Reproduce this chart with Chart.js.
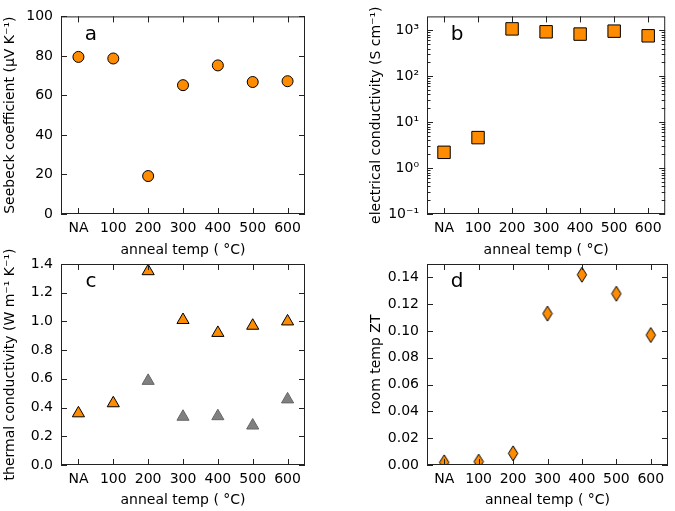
<!DOCTYPE html>
<html>
<head>
<meta charset="utf-8">
<script src="https://cdn.jsdelivr.net/npm/chart.js@4"></script>
<style>
  html, body { margin: 0; padding: 0; background: #fff; }
  #wrap { position: relative; width: 675px; height: 511px; }
  #wrap canvas { position: absolute; left: 0; top: 0; }
</style>
</head>
<body>
<div id="wrap">
  <canvas id="panelA" width="675" height="511"></canvas>
  <canvas id="panelB" width="675" height="511"></canvas>
  <canvas id="panelC" width="675" height="511"></canvas>
  <canvas id="panelD" width="675" height="511"></canvas>
</div>
<script>
// Dados
const categories = ['NA', '100', '200', '300', '400', '500', '600'];
const seebeck = [79.5, 78.7, 19.2, 65.2, 75.2, 66.8, 67.2];
const elecCond = [2.2, 4.6, 1070, 924, 824, 955, 756];
const thermalTotal = [0.36, 0.43, 1.35, 1.01, 0.92, 0.97, 1.00];
const thermalLattice = [null, null, 0.586, 0.336, 0.34, 0.275, 0.457];
const roomZT = [0.002, 0.0025, 0.0087, 0.113, 0.142, 0.1278, 0.097];

// Ticks dos eixos
const seebeckTicks = [0, 20, 40, 60, 80, 100];
const condTicks = [0.1, 1, 10, 100, 1000];
const condTickLabels = ['10⁻¹', '10⁰', '10¹', '10²', '10³'];
const thermalTicks = [0, 0.2, 0.4, 0.6, 0.8, 1.0, 1.2, 1.4];
const ztTicks = [0, 0.02, 0.04, 0.06, 0.08, 0.10, 0.12, 0.14];

const ORANGE = '#ff8c00';
const FONT = '"DejaVu Sans", sans-serif';

Chart.defaults.font.family = FONT;
Chart.defaults.color = '#000';

// Marcador losango fino (estilo matplotlib 'd')
const makeDiamond = () => {
    const c = document.createElement('canvas');
    c.width = 12; c.height = 17;
    const g = c.getContext('2d');
    g.beginPath();
    g.moveTo(6, 1); g.lineTo(10.7, 8.5); g.lineTo(6, 16); g.lineTo(1.3, 8.5);
    g.closePath();
    g.fillStyle = ORANGE; g.fill();
    g.strokeStyle = '#000'; g.lineWidth = 1; g.stroke();
    return c;
};

// Moldura, ticks para dentro, letra do painel e título do eixo y
const framePlugin = {
    id: 'frame',
    afterDraw(chart, args, opts) {
        const { ctx } = chart;
        const { left, top, right, bottom } = chart.chartArea;
        const xs = chart.scales.x, ys = chart.scales.y;
        ctx.save();
        ctx.strokeStyle = '#222';
        ctx.lineWidth = 1;
        ctx.beginPath();
        xs.ticks.forEach((t, i) => {
            const px = Math.round(xs.getPixelForTick(i)) + 0.5;
            ctx.moveTo(px, bottom); ctx.lineTo(px, bottom - 6);
            ctx.moveTo(px, top); ctx.lineTo(px, top + 6);
        });
        ys.ticks.forEach(t => {
            const py = Math.round(ys.getPixelForValue(t.value)) + 0.5;
            ctx.moveTo(left, py); ctx.lineTo(left + 6, py);
            ctx.moveTo(right, py); ctx.lineTo(right - 6, py);
        });
        if (opts.minor) {
            for (let n = -1; n <= 3; n++) {
                for (let k = 2; k <= 9; k++) {
                    const v = k * Math.pow(10, n);
                    if (v >= ys.max) continue;
                    const py = Math.round(ys.getPixelForValue(v)) + 0.5;
                    ctx.moveTo(left, py); ctx.lineTo(left + 3.5, py);
                    ctx.moveTo(right, py); ctx.lineTo(right - 3.5, py);
                }
            }
        }
        ctx.stroke();
        ctx.strokeRect(left + 0.5, top + 0.5, right - left - 1, bottom - top - 1);

        ctx.fillStyle = '#000';
        ctx.textAlign = 'center';
        ctx.textBaseline = 'middle';
        ctx.font = '20px ' + FONT;
        ctx.fillText(opts.letter, left + 30, top + 18);

        ctx.translate(left - 51, (top + bottom) / 2);
        ctx.rotate(-Math.PI / 2);
        ctx.font = '14px ' + FONT;
        ctx.fillText(opts.yTitle, 0, 0);
        ctx.restore();
    }
};

// Construção de um painel
const makePanel = (id, cfg) => {
    const top = cfg.row === 0;
    new Chart(document.getElementById(id), {
        type: 'line',
        data: { labels: categories, datasets: cfg.datasets },
        plugins: [framePlugin],
        options: {
            responsive: false,
            animation: false,
            events: [],
            layout: {
                padding: {
                    left: cfg.col === 0 ? 0 : 366,
                    right: cfg.col === 0 ? 370 : 4,
                    top: top ? 14 : 264,
                    bottom: top ? 249 : 0
                }
            },
            plugins: {
                legend: { display: false },
                tooltip: { enabled: false },
                frame: { letter: cfg.letter, yTitle: cfg.yTitle, minor: !!cfg.minor }
            },
            scales: {
                x: {
                    type: 'category',
                    offset: true,
                    grid: { display: false, drawTicks: false },
                    border: { display: false },
                    ticks: { font: { size: 14 }, padding: 6, maxRotation: 0, autoSkip: false },
                    title: {
                        display: true,
                        text: 'anneal temp ( °C)',
                        font: { size: 14 },
                        padding: { top: 0, bottom: top ? 3.6 : 2.6 }
                    },
                    afterFit: s => { s.height = top ? 48 : 46; }
                },
                y: Object.assign({
                    grid: { display: false, drawTicks: false },
                    border: { display: false },
                    afterBuildTicks: s => { s.ticks = cfg.tickValues.map(v => ({ value: v })); },
                    ticks: { font: { size: 14 }, padding: 8, callback: cfg.tickFormat },
                    afterFit: s => { s.width = 61; }
                }, cfg.y)
            }
        }
    });
};

const pointSet = (data, style, radius, fill, edge) => ({
    data: data,
    showLine: false,
    clip: 0,
    pointStyle: style,
    pointRadius: radius,
    pointBackgroundColor: fill,
    pointBorderColor: edge,
    pointBorderWidth: 1
});

makePanel('panelA', {
    row: 0, col: 0, letter: 'a',
    yTitle: 'Seebeck coefficient (μV K⁻¹)',
    y: { min: 0, max: 100 },
    tickValues: seebeckTicks,
    tickFormat: v => String(v),
    datasets: [pointSet(seebeck, 'circle', 5.5, ORANGE, '#000')]
});

makePanel('panelB', {
    row: 0, col: 1, letter: 'b', minor: true,
    yTitle: 'electrical conductivity (S cm⁻¹)',
    y: { type: 'logarithmic', min: 0.1, max: 2000 },
    tickValues: condTicks,
    tickFormat: (v, i) => condTickLabels[i],
    datasets: [pointSet(elecCond, 'rect', 8.8, ORANGE, '#000')]
});

makePanel('panelC', {
    row: 1, col: 0, letter: 'c',
    yTitle: 'thermal conductivity (W m⁻¹ K⁻¹)',
    y: { min: 0, max: 1.4 },
    tickValues: thermalTicks,
    tickFormat: v => v.toFixed(1),
    datasets: [
        pointSet(thermalTotal, 'triangle', 7, ORANGE, '#000'),
        pointSet(thermalLattice, 'triangle', 7, '#808080', '#666')
    ]
});

makePanel('panelD', {
    row: 1, col: 1, letter: 'd',
    yTitle: 'room temp ZT',
    y: { min: 0, max: 0.15 },
    tickValues: ztTicks,
    tickFormat: v => v.toFixed(2),
    datasets: [pointSet(roomZT, makeDiamond(), 6, ORANGE, '#000')]
});
</script>
</body>
</html>
